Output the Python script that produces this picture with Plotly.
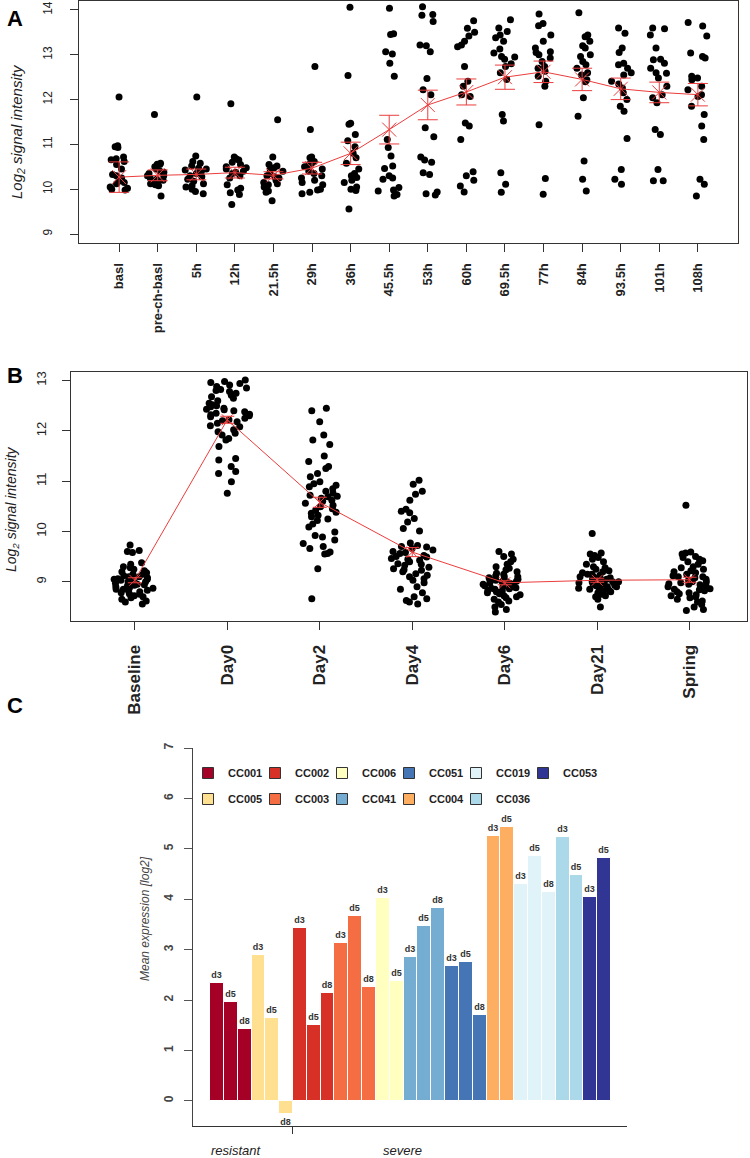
import plotly.graph_objects as go

# ---------------- Panel A data ----------------
A_labels = ["basl", "pre-ch-basl", "5h", "12h", "21.5h", "29h", "36h", "45.5h",
            "53h", "60h", "69.5h", "77h", "84h", "93.5h", "101h", "108h"]
A_basl = [12.06, 10.97, 10.95, 10.93, 10.72, 10.68, 10.66, 10.62, 10.55, 10.45, 10.33, 10.3, 10.25, 10.18, 10.15, 10.12, 10.02, 10.0, 9.98, 10.05]
A_prech = [11.67, 10.58, 10.56, 10.55, 10.5, 10.45, 10.4, 10.38, 10.35, 10.3, 10.25, 10.22, 10.2, 10.18, 10.15, 10.12, 10.1, 10.08, 9.85, 10.3]
A_5h = [12.06, 10.74, 10.62, 10.58, 10.52, 10.47, 10.43, 10.38, 10.35, 10.28, 10.22, 10.18, 10.12, 10.08, 10.05, 10.0, 9.95, 9.9, 10.3, 10.45]
A_12h = [11.91, 10.72, 10.68, 10.65, 10.6, 10.55, 10.5, 10.48, 10.45, 10.4, 10.35, 10.3, 10.25, 10.02, 9.98, 9.92, 9.88, 9.66, 10.1, 10.38]
A_21h = [11.55, 10.72, 10.55, 10.52, 10.48, 10.44, 10.4, 10.35, 10.3, 10.25, 10.2, 10.12, 10.05, 10.02, 9.96, 9.93, 9.74, 10.1, 10.28, 10.15]
A_29h = [12.74, 11.33, 10.72, 10.7, 10.62, 10.58, 10.55, 10.5, 10.45, 10.35, 10.2, 10.15, 10.1, 10.0, 9.98, 9.93, 9.9, 10.3, 10.4, 10.25]
A_36h = [14.06, 12.54, 11.47, 11.45, 11.22, 11.08, 10.95, 10.8, 10.45, 10.35, 10.3, 10.26, 10.2, 10.15, 10.05, 10.0, 9.97, 9.56, 10.7, 10.58]
A_45h = [14.04, 13.47, 13.45, 13.07, 13.02, 12.81, 12.52, 11.11, 10.93, 10.74, 10.52, 10.46, 10.3, 10.25, 10.22, 10.04, 9.98, 9.96, 9.88, 9.85]
A_53h = [14.07, 13.9, 13.88, 13.74, 13.22, 13.2, 13.07, 12.47, 12.22, 12.11, 11.37, 11.17, 10.72, 10.65, 10.37, 10.33, 9.94, 9.9, 9.87, 10.6]
A_60h = [13.59, 13.76, 13.42, 13.5, 13.22, 13.18, 12.74, 12.41, 12.11, 12.07, 11.41, 11.48, 11.11, 10.3, 10.39, 10.07, 9.94, 12.3, 13.3, 10.2]
A_69h = [13.78, 13.6, 13.52, 13.44, 13.38, 13.13, 13.04, 12.96, 12.9, 12.8, 12.74, 12.6, 11.67, 11.52, 10.37, 10.11, 9.93, 12.45, 12.95, 13.3]
A_77h = [13.91, 13.7, 13.65, 13.44, 13.3, 13.07, 13.05, 12.93, 12.74, 12.63, 12.52, 12.41, 12.3, 11.44, 10.24, 9.89, 12.85, 13.0, 13.15, 12.7]
A_84h = [13.94, 13.44, 13.4, 13.3, 13.15, 12.96, 12.78, 12.7, 12.6, 12.44, 12.4, 12.04, 11.63, 10.63, 10.22, 9.96, 13.0, 12.55, 12.85, 13.2]
A_93h = [13.6, 13.48, 13.15, 13.05, 12.81, 12.78, 12.6, 12.55, 12.41, 12.26, 12.15, 12.0, 11.85, 11.74, 11.13, 10.44, 10.22, 10.11, 12.7, 12.35]
A_101h = [13.6, 13.58, 13.44, 13.15, 12.89, 12.81, 12.7, 12.59, 12.48, 12.3, 12.11, 12.04, 11.93, 11.33, 11.22, 10.44, 10.19, 10.19, 12.9, 12.6]
A_108h = [13.72, 13.64, 13.42, 13.04, 12.96, 12.93, 12.52, 12.48, 12.44, 12.22, 12.11, 12.07, 11.85, 11.67, 11.41, 11.11, 10.22, 10.11, 9.85, 12.3]
A_mean = [10.27, 10.31, 10.33, 10.37, 10.31, 10.47, 10.8, 11.33, 11.88, 12.17, 12.5, 12.62, 12.45, 12.24, 12.16, 12.11]
A_err = [0.34, 0.12, 0.12, 0.12, 0.08, 0.13, 0.25, 0.32, 0.33, 0.29, 0.27, 0.24, 0.25, 0.24, 0.23, 0.25]

# ---------------- Panel B data ----------------
B_labels = ["Baseline", "Day0", "Day2", "Day4", "Day6", "Day21", "Spring"]
B_base = [9.73, 9.62, 9.6, 9.58, 9.38, 9.35, 9.3, 9.28, 9.25, 9.22, 9.2, 9.18, 9.15, 9.12, 9.1, 9.08, 9.06, 9.05, 9.03, 9.02, 9.0, 8.98, 8.97, 8.95, 8.94, 8.92, 8.9, 8.88, 8.87, 8.85, 8.83, 8.82, 8.8, 8.78, 8.76, 8.75, 8.72, 8.7, 8.68, 8.65, 8.62, 8.6, 8.56, 9.1, 9.0, 8.93, 9.15, 8.85, 9.05, 8.95]
B_day0 = [13.01, 12.98, 12.96, 12.94, 12.91, 12.88, 12.85, 12.82, 12.8, 12.78, 12.75, 12.71, 12.68, 12.65, 12.6, 12.55, 12.52, 12.5, 12.48, 12.45, 12.43, 12.42, 12.4, 12.35, 12.33, 12.32, 12.3, 12.28, 12.25, 12.22, 12.2, 12.18, 12.15, 12.1, 12.08, 12.02, 11.98, 11.95, 11.92, 11.85, 11.82, 11.69, 11.45, 11.42, 11.29, 11.19, 11.15, 10.99, 10.76, 12.38]
B_day2 = [12.45, 12.4, 12.18, 11.92, 11.82, 11.73, 11.5, 11.39, 11.29, 11.25, 11.15, 11.09, 10.99, 10.95, 10.92, 10.89, 10.85, 10.8, 10.76, 10.72, 10.69, 10.66, 10.62, 10.6, 10.56, 10.52, 10.49, 10.45, 10.42, 10.38, 10.36, 10.32, 10.29, 10.25, 10.22, 10.15, 10.09, 9.99, 9.92, 9.89, 9.83, 9.76, 9.7, 9.66, 9.59, 9.56, 9.55, 9.26, 8.66, 10.7]
B_day4 = [11.02, 10.94, 10.8, 10.74, 10.62, 10.44, 10.4, 10.37, 10.26, 10.19, 10.06, 10.01, 9.77, 9.72, 9.69, 9.66, 9.63, 9.6, 9.56, 9.52, 9.49, 9.46, 9.43, 9.4, 9.36, 9.33, 9.29, 9.26, 9.23, 9.2, 9.16, 9.13, 9.1, 9.06, 9.03, 8.98, 8.9, 8.85, 8.78, 8.7, 8.66, 8.63, 8.6, 8.56, 9.5, 9.35, 9.7, 9.58, 9.24, 9.45]
B_day6 = [9.6, 9.55, 9.5, 9.45, 9.4, 9.35, 9.3, 9.27, 9.24, 9.2, 9.17, 9.15, 9.12, 9.1, 9.08, 9.05, 9.03, 9.01, 9.0, 8.98, 8.97, 8.95, 8.93, 8.92, 8.9, 8.88, 8.86, 8.85, 8.83, 8.82, 8.8, 8.78, 8.76, 8.74, 8.72, 8.7, 8.68, 8.65, 8.62, 8.6, 8.55, 8.5, 8.45, 8.4, 9.0, 8.95, 9.05, 8.9, 9.1, 8.87]
B_day21 = [9.96, 9.57, 9.55, 9.52, 9.48, 9.45, 9.4, 9.35, 9.3, 9.28, 9.25, 9.22, 9.2, 9.18, 9.15, 9.13, 9.1, 9.08, 9.06, 9.05, 9.03, 9.02, 9.0, 8.99, 8.98, 8.96, 8.95, 8.93, 8.92, 8.9, 8.88, 8.87, 8.85, 8.83, 8.82, 8.8, 8.78, 8.75, 8.72, 8.7, 8.65, 8.5, 9.1, 9.0, 8.95, 9.05, 8.9, 9.15, 8.85, 9.0]
B_spring = [10.52, 9.59, 9.57, 9.55, 9.5, 9.48, 9.45, 9.42, 9.4, 9.35, 9.3, 9.28, 9.25, 9.2, 9.18, 9.15, 9.12, 9.1, 9.08, 9.05, 9.03, 9.0, 8.98, 8.96, 8.94, 8.92, 8.9, 8.88, 8.86, 8.84, 8.82, 8.8, 8.78, 8.76, 8.74, 8.72, 8.7, 8.68, 8.65, 8.62, 8.6, 8.55, 8.5, 8.45, 8.43, 9.22, 9.0, 8.85, 9.1, 8.95]
B_mean = [9.03, 12.22, 10.58, 9.59, 8.98, 9.03, 9.04]
B_err = [0.05, 0.07, 0.10, 0.09, 0.04, 0.04, 0.05]

# ---------------- Panel C data ----------------
C_strains = ["CC001", "CC005", "CC002", "CC003", "CC006", "CC041", "CC051", "CC004", "CC019", "CC036", "CC053"]
C_days = [["d3", "d5", "d8"], ["d3", "d5", "d8"], ["d3", "d5", "d8"], ["d3", "d5", "d8"], ["d3", "d5"],
          ["d3", "d5", "d8"], ["d3", "d5", "d8"], ["d3", "d5"], ["d3", "d5", "d8"], ["d3", "d5"], ["d3", "d5"]]
C_values = [[2.33, 1.97, 1.43], [2.90, 1.65, -0.27], [3.42, 1.51, 2.13], [3.14, 3.66, 2.25], [4.02, 2.37],
            [2.86, 3.46, 3.83], [2.67, 2.76, 1.71], [5.25, 5.43], [4.31, 4.85, 4.15], [5.23, 4.49], [4.04, 4.81]]
C_colors = ["#A50026", "#FEE090", "#D73027", "#F46D43", "#FFFFBF", "#74ADD1", "#4575B4", "#FDAE61", "#E0F3F8", "#ABD9E9", "#313695"]
C_legend_row1 = ["CC001", "CC002", "CC006", "CC051", "CC019", "CC053"]
C_legend_row2 = ["CC005", "CC003", "CC041", "CC004", "CC036"]
C_groups = ["resistant", "severe"]

FONT = "Liberation Sans, Arial, sans-serif"
RED = "rgb(236,60,60)"
W, H = 750, 1158

fig = go.Figure()

# ---- Panel A points
A_values = [A_basl, A_prech, A_5h, A_12h, A_21h, A_29h, A_36h, A_45h, A_53h, A_60h,
            A_69h, A_77h, A_84h, A_93h, A_101h, A_108h]
xa, ya = [], []
for i, vals in enumerate(A_values):
    xa += [i + 1] * len(vals)
    ya += vals
fig.add_trace(go.Box(x=xa, y=ya, boxpoints="all", jitter=1, pointpos=0, width=0.6,
                     fillcolor="rgba(0,0,0,0)", line=dict(color="rgba(0,0,0,0)", width=0),
                     marker=dict(color="black", size=7), xaxis="x", yaxis="y",
                     showlegend=False, hoverinfo="y"))
fig.add_trace(go.Scatter(x=list(range(1, len(A_labels) + 1)), y=A_mean, mode="lines+markers",
                         line=dict(color=RED, width=1),
                         marker=dict(symbol="x-thin", size=14, color=RED, line=dict(color=RED, width=1)),
                         error_y=dict(type="data", array=A_err, color=RED, thickness=1, width=10),
                         xaxis="x", yaxis="y", showlegend=False))

# ---- Panel B points
B_values = [B_base, B_day0, B_day2, B_day4, B_day6, B_day21, B_spring]
xb, yb = [], []
for i, vals in enumerate(B_values):
    xb += [i + 1] * len(vals)
    yb += vals
fig.add_trace(go.Box(x=xb, y=yb, boxpoints="all", jitter=1, pointpos=0, width=0.5,
                     fillcolor="rgba(0,0,0,0)", line=dict(color="rgba(0,0,0,0)", width=0),
                     marker=dict(color="black", size=7), xaxis="x2", yaxis="y2",
                     showlegend=False, hoverinfo="y"))
fig.add_trace(go.Scatter(x=list(range(1, len(B_labels) + 1)), y=B_mean, mode="lines+markers",
                         line=dict(color=RED, width=1),
                         marker=dict(symbol="x-thin", size=11, color=RED, line=dict(color=RED, width=1)),
                         error_y=dict(type="data", array=B_err, color=RED, thickness=1, width=7),
                         xaxis="x2", yaxis="y2", showlegend=False))

# ---- Panel C bars
pos = 0
for s, days, vals, col in zip(C_strains, C_days, C_values, C_colors):
    xs = list(range(pos, pos + len(vals)))
    pos += len(vals)
    fig.add_trace(go.Bar(x=xs, y=vals, width=1, marker=dict(color=col, line=dict(color="white", width=1)),
                         text=days, textposition="outside", constraintext="none", cliponaxis=False,
                         textfont=dict(family=FONT, size=9, color="#333333", weight="bold"),
                         xaxis="x3", yaxis="y3", showlegend=False, name=s))
for row, leg in ((C_legend_row1, "legend"), (C_legend_row2, "legend2")):
    for s in row:
        col = C_colors[C_strains.index(s)]
        fig.add_trace(go.Scatter(x=[None], y=[None], mode="markers", name=s, legend=leg,
                                 marker=dict(symbol="square", size=11, color=col,
                                             line=dict(color="#333333", width=1)),
                                 xaxis="x3", yaxis="y3", showlegend=True))
    # invisible spacer so that the last legend label is not clipped
    fig.add_trace(go.Scatter(x=[None], y=[None], mode="markers", name=" ", legend=leg,
                             marker=dict(symbol="square", size=1, color="rgba(0,0,0,0)",
                                         line=dict(color="rgba(0,0,0,0)", width=0)),
                             xaxis="x3", yaxis="y3", showlegend=True, hoverinfo="skip"))

axis_common = dict(showline=True, linecolor="#333333", linewidth=1, mirror=True, ticks="outside",
                   ticklen=8, tickcolor="#333333", showgrid=False, zeroline=False)

fig.update_layout(
    width=W, height=H, margin=dict(l=0, r=0, t=0, b=0, autoexpand=False),
    paper_bgcolor="white", plot_bgcolor="white",
    font=dict(family=FONT, color="#222222"),
    bargap=0,
    xaxis=dict(domain=[79 / W, 738 / W], range=[-0.04, 17.04], tickvals=list(range(1, len(A_labels) + 1)),
               ticktext=A_labels, tickangle=-90, tickfont=dict(size=13, weight="bold", color="#222222"),
               ticklabelstandoff=6, **axis_common),
    yaxis=dict(domain=[1 - 243 / H, 1 - 1 / H], range=[8.8, 14.2], tickvals=[9, 10, 11, 12, 13, 14],
               tickangle=-90, tickfont=dict(size=12, color="#222222"), ticklabelstandoff=13, **axis_common),
    xaxis2=dict(domain=[71 / W, 747 / W], range=[0.31, 7.62], tickvals=list(range(1, len(B_labels) + 1)),
                ticktext=B_labels, tickangle=-90, tickfont=dict(size=17, weight="bold", color="#222222"),
                ticklabelstandoff=8, anchor="y2", **axis_common),
    yaxis2=dict(domain=[1 - 621 / H, 1 - 372 / H], range=[8.22, 13.17], tickvals=[9, 10, 11, 12, 13],
                tickangle=-90, tickfont=dict(size=13, color="#222222"), ticklabelstandoff=11, anchor="x2",
                **axis_common),
    xaxis3=dict(domain=[193 / W, 627 / W], range=[-1.73, 29.65], tickvals=[5.5], ticktext=[""],
                showline=True, linecolor="#333333", linewidth=1, ticks="outside", ticklen=7,
                tickcolor="#333333", showgrid=False, zeroline=False, anchor="y3"),
    yaxis3=dict(domain=[1 - 1126 / H, 1 - 748 / H], range=[-0.5, 7], tickvals=list(range(0, 8)),
                tickangle=-90, tickfont=dict(size=12, weight="bold", color="#444444"),
                showline=True, linecolor="#444444", linewidth=1, ticks="outside", ticklen=8,
                tickcolor="#555555", showgrid=False, zeroline=False, anchor="x3", ticklabelstandoff=6),
    legend=dict(orientation="h", x=188 / W, y=1 - 773 / H, xanchor="left", yanchor="middle",
                font=dict(size=11, weight="bold", color="#222222"), entrywidth=22, entrywidthmode="pixels",
                bgcolor="rgba(0,0,0,0)", itemclick=False, itemdoubleclick=False),
    legend2=dict(orientation="h", x=188 / W, y=1 - 799 / H, xanchor="left", yanchor="middle",
                 font=dict(size=11, weight="bold", color="#222222"), entrywidth=22, entrywidthmode="pixels",
                 bgcolor="rgba(0,0,0,0)", itemclick=False, itemdoubleclick=False),
)

ann = []
for lab, yy in (("A", 18), ("B", 375), ("C", 705)):
    ann.append(dict(text=lab, xref="paper", yref="paper", x=15 / W, y=1 - yy / H, showarrow=False,
                    xanchor="center", yanchor="middle", font=dict(size=22, weight="bold", color="black")))
ann.append(dict(text="<i>Log<sub>2</sub> signal intensity</i>", xref="paper", yref="paper", x=18 / W,
                y=1 - 132 / H, textangle=-90, showarrow=False, xanchor="center", yanchor="middle",
                font=dict(size=15, color="#222222")))
ann.append(dict(text="<i>Log<sub>2</sub> signal intensity</i>", xref="paper", yref="paper", x=12 / W,
                y=1 - 509 / H, textangle=-90, showarrow=False, xanchor="center", yanchor="middle",
                font=dict(size=14, color="#222222")))
ann.append(dict(text="<i>Mean expression [log2]</i>", xref="paper", yref="paper", x=145 / W,
                y=1 - 919 / H, textangle=-90, showarrow=False, xanchor="center", yanchor="middle",
                font=dict(size=12, color="#444444")))
for g, xc in zip(C_groups, (1.45, 13.45)):
    ann.append(dict(text="<i>" + g + "</i>", xref="x3", yref="paper", x=xc, y=1 - 1150 / H,
                    showarrow=False, xanchor="center", yanchor="middle",
                    font=dict(size=13, color="#222222")))
fig.update_layout(annotations=ann)

fig.write_html("out.html", config={"displayModeBar": False},
               post_script="document.body.style.margin='0';document.body.style.padding='0';"
                           "document.documentElement.style.overflow='hidden';")
